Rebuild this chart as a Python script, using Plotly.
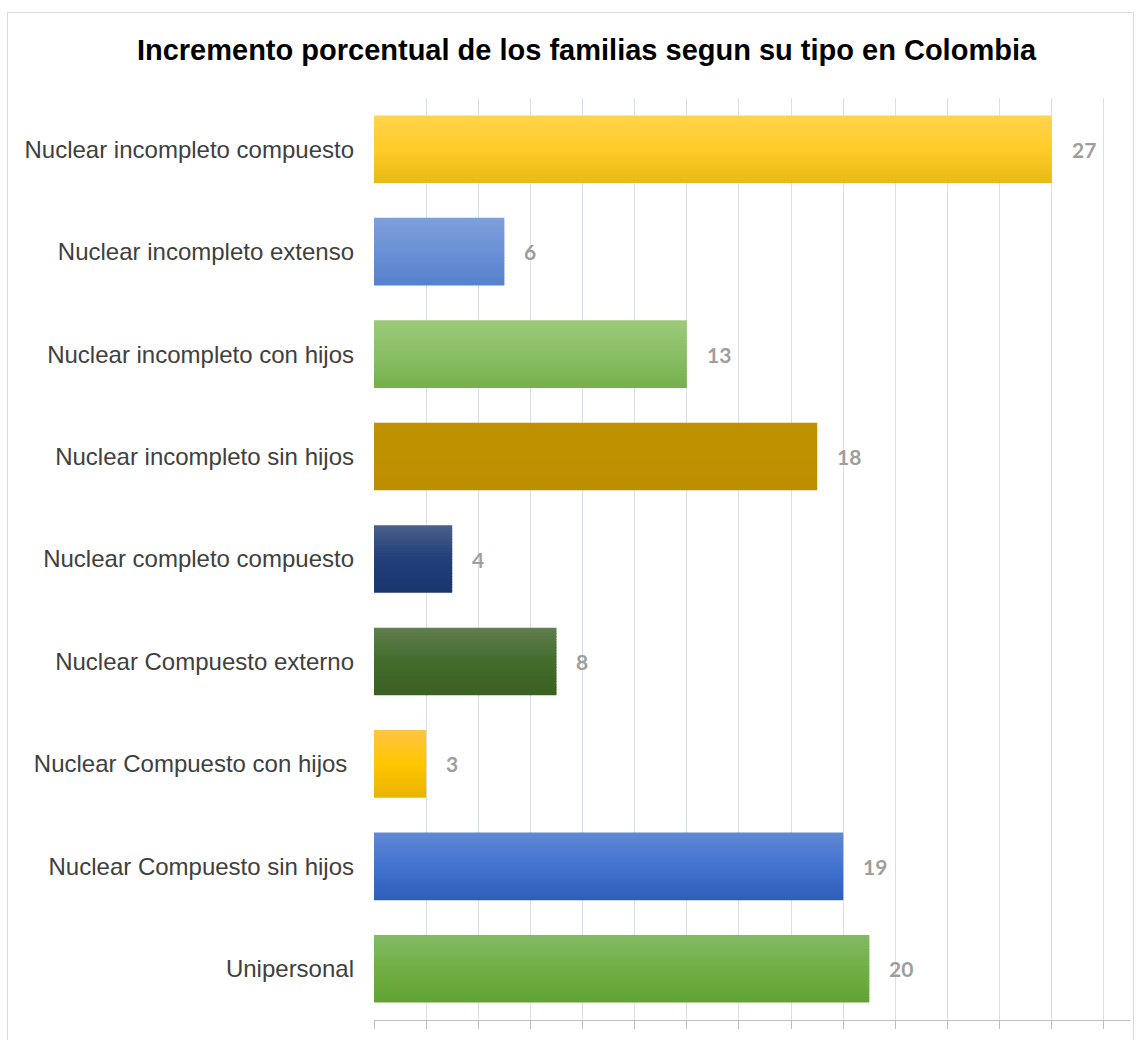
import plotly.graph_objects as go

categories = [
    "Nuclear incompleto compuesto",
    "Nuclear incompleto extenso",
    "Nuclear incompleto con hijos",
    "Nuclear incompleto sin hijos",
    "Nuclear completo compuesto",
    "Nuclear Compuesto externo",
    "Nuclear Compuesto con hijos\u00a0",
    "Nuclear Compuesto sin hijos",
    "Unipersonal",
]
values = [27, 6, 13, 18, 4, 8, 3, 19, 20]

# gradient colours per bar: (top, middle, bottom)
bar_colors = [
    ("#FFD44F", "#FFCC29", "#E8B914"),
    ("#7EA0DC", "#6A90D6", "#5580CB"),
    ("#9DCA7C", "#8ABF66", "#76B04C"),
    ("#BF9000", "#BF9000", "#BC8E00"),
    ("#4B5F8B", "#213F7A", "#1B366F"),
    ("#607E50", "#436C2B", "#3A6022"),
    ("#FFC544", "#FFC600", "#E8B400"),
    ("#6188D3", "#4174D0", "#2D5EB8"),
    ("#82BA64", "#70AF45", "#61A234"),
]

title_text = "Incremento porcentual de los familias segun su tipo en Colombia"


def hex2rgb(h):
    h = h.lstrip("#")
    return tuple(int(h[i:i + 2], 16) for i in (0, 2, 4))


def interp(c1, c2, t):
    a, b = hex2rgb(c1), hex2rgb(c2)
    return "rgb(%d,%d,%d)" % tuple(round(a[k] + (b[k] - a[k]) * t) for k in range(3))


def grad(cols, t):
    top, mid, bot = cols
    if t < 0.5:
        return interp(top, mid, t / 0.5)
    return interp(mid, bot, (t - 0.5) / 0.5)


BAR_W = 0.66
N = 24
band = BAR_W / N

fig = go.Figure()
for i in range(N):
    t = (i + 0.5) / N
    fig.add_trace(go.Bar(
        x=values,
        y=categories,
        orientation="h",
        width=band * 1.3 if i < N - 1 else band,
        offset=-BAR_W / 2 + i * band,
        marker=dict(color=[grad(c, t) for c in bar_colors], line=dict(width=0)),
        showlegend=False,
        hoverinfo="skip" if i else "x+y",
    ))

for cat, v in zip(categories, values):
    fig.add_annotation(
        x=v, y=cat, text=str(v), showarrow=False,
        xanchor="left", yanchor="middle", xshift=18,
        font=dict(family="Lato", size=21, color="#9E9E9E", weight="bold"),
    )

W, H = 1148, 1040
ml, mr, mt, mb = 374, 18, 98, 20
pw, ph = W - ml - mr, H - mt - mb


def px(x):
    return (x - ml) / pw


def py(y):
    return 1 - (y - mt) / ph


fig.add_shape(type="rect", xref="paper", yref="paper",
              x0=px(7.5), x1=px(1133.5), y0=py(1060), y1=py(12.5),
              line=dict(color="#D9D9D9", width=1), fillcolor="rgba(0,0,0,0)",
              layer="below")

fig.update_layout(
    width=W, height=H,
    margin=dict(l=ml, r=mr, t=mt, b=mb),
    paper_bgcolor="white", plot_bgcolor="white",
    barmode="overlay",
    title=dict(text="<b>" + title_text + "</b>", x=586.5 / W, xanchor="center",
               y=1 - 50 / H, yanchor="middle", xref="container", yref="container",
               font=dict(family="Liberation Sans, Arial", size=29, color="#000000")),
    xaxis=dict(range=[1, 30], tick0=1, dtick=2, showgrid=True,
               gridcolor="#D9DEE7", gridwidth=1, zeroline=False,
               showline=True, linecolor="#BFBFBF", linewidth=1,
               ticks="outside", ticklen=8, tickcolor="#BFBFBF",
               showticklabels=False),
    yaxis=dict(categoryorder="array", categoryarray=categories,
               autorange="reversed", showgrid=False, zeroline=False,
               showline=False, ticks="", ticklabelstandoff=19,
               tickfont=dict(family="Liberation Sans, Arial", size=24, color="#404040")),
)

fig.write_html("out.html")
